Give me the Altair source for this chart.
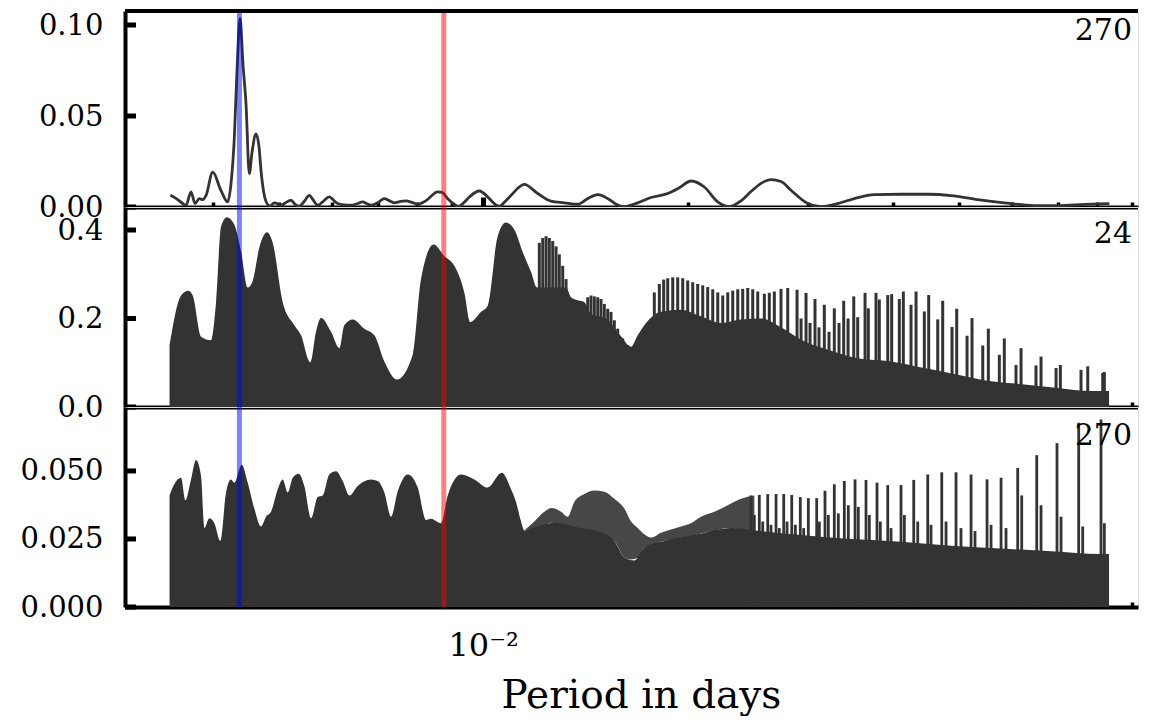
import altair as alt
import numpy as np
import pandas as pd

# ---------------- data (x stored as log10(period in days)) -------------
# Top panel ("270"): smooth periodogram line
top_logp = [
    -2.4601, -2.4493, -2.4419, -2.4371, -2.4297, -2.4238, -2.4175, -2.4125, -2.4076, -2.3978,
    -2.3856, -2.3757, -2.3709, -2.3660, -2.3621, -2.3576, -2.3532, -2.3488, -2.3440, -2.3400,
    -2.3341, -2.3297, -2.3268, -2.3194, -2.3135, -2.3072, -2.2974, -2.2900, -2.2826, -2.2768,
    -2.2704, -2.2635, -2.2557, -2.2503, -2.2434, -2.2356, -2.2263, -2.2194, -2.2140, -2.2047,
    -2.1944, -2.1856, -2.1772, -2.1709, -2.1650, -2.1547, -2.1454, -2.1385, -2.1307, -2.1224,
    -2.1135, -2.1047, -2.0963, -2.0841, -2.0669, -2.0606, -2.0522, -2.0444, -2.0363, -2.0282,
    -2.0204, -2.0057, -1.9910, -1.9826, -1.9763, -1.9679, -1.9591, -1.9396, -1.9199, -1.9003,
    -1.8807, -1.8610, -1.8463, -1.8316, -1.8146, -1.8047, -1.7925, -1.7728, -1.7532, -1.7287,
    -1.7116, -1.6944, -1.6749, -1.6551, -1.6381, -1.6209, -1.6062, -1.5915, -1.5768, -1.5621,
    -1.5474, -1.5228, -1.5032, -1.4787, -1.4543, -1.4249, -1.3856, -1.3463, -1.3121, -1.2728,
    -1.2337, -1.1896, -1.1551, -1.1160, -1.0793,
]
top_power = [
    0.0064, 0.0041, 0.0019, 0.0010, 0.0083, 0.0019, 0.0046, 0.0041, 0.0064, 0.0192,
    0.0090, 0.0028, 0.0128, 0.0383, 0.0750, 0.1036, 0.0780, 0.0564, 0.0183, 0.0300,
    0.0401, 0.0330, 0.0201, 0.0030, 0.0005, 0.0023, 0.0010, 0.0025, 0.0037, 0.0015,
    0.0004, 0.0030, 0.0064, 0.0040, 0.0010, 0.0030, 0.0056, 0.0035, 0.0019, 0.0012,
    0.0010, 0.0018, 0.0028, 0.0018, 0.0010, 0.0025, 0.0046, 0.0035, 0.0023, 0.0030,
    0.0034, 0.0025, 0.0015, 0.0035, 0.0083, 0.0080, 0.0046, 0.0020, 0.0003, 0.0025,
    0.0055, 0.0088, 0.0046, 0.0015, 0.0004, 0.0030, 0.0064, 0.0124, 0.0074, 0.0032,
    0.0023, 0.0015, 0.0046, 0.0068, 0.0041, 0.0015, 0.0002, 0.0023, 0.0052, 0.0074,
    0.0106, 0.0143, 0.0110, 0.0028, 0.0002, 0.0034, 0.0085, 0.0130, 0.0150, 0.0140,
    0.0092, 0.0019, 0.0002, 0.0019, 0.0046, 0.0068, 0.0070, 0.0070, 0.0063, 0.0041,
    0.0023, 0.0008, 0.0007, 0.0014, 0.0019,
]

# Middle panel ("24"): solid dark envelope of the dense oscillation
mid_fill_logp = [
    -2.4613, -2.4444, -2.4337, -2.4272, -2.4150, -2.4003, -2.3929, -2.3856, -2.3768, -2.3660,
    -2.3562, -2.3463, -2.3390, -2.3293, -2.3179, -2.3096, -2.2949, -2.2778, -2.2679, -2.2543,
    -2.2459, -2.2385, -2.2238, -2.2116, -2.2043, -2.1919, -2.1749, -2.1601, -2.1454, -2.1268,
    -2.1037, -2.0915, -2.0728, -2.0572, -2.0425, -2.0278, -2.0190, -2.0032, -1.9934, -1.9787,
    -1.9665, -1.9543, -1.9419, -1.9297, -1.9209, -1.9003, -1.8782, -1.8709, -1.8610, -1.8513,
    -1.8415, -1.8194, -1.7974, -1.7826, -1.7728, -1.7606, -1.7385, -1.7091, -1.6797, -1.6503,
    -1.6209, -1.5915, -1.5621, -1.5326, -1.4984, -1.4493, -1.4003, -1.3513, -1.3022, -1.2532,
    -1.2043, -1.1551, -1.1062, -1.0797,
]
mid_fill_power = [
    0.140, 0.252, 0.263, 0.252, 0.159, 0.151, 0.237, 0.408, 0.429, 0.412,
    0.352, 0.270, 0.285, 0.360, 0.395, 0.371, 0.237, 0.185, 0.162, 0.101,
    0.170, 0.201, 0.170, 0.133, 0.185, 0.198, 0.177, 0.162, 0.103, 0.062,
    0.118, 0.289, 0.367, 0.341, 0.319, 0.259, 0.192, 0.215, 0.229, 0.386,
    0.417, 0.401, 0.350, 0.305, 0.270, 0.270, 0.270, 0.248, 0.241, 0.237,
    0.210, 0.200, 0.160, 0.136, 0.162, 0.190, 0.215, 0.220, 0.205, 0.190,
    0.198, 0.200, 0.180, 0.152, 0.132, 0.110, 0.103, 0.088, 0.073, 0.058,
    0.051, 0.043, 0.036, 0.036,
]
# Middle panel: individual alias spikes (comb) above the solid part
mid_spike_logp = [
    -1.9175, -1.9125, -1.9076, -1.9028, -1.8978, -1.8929, -1.8881, -1.8831, -1.8782,
    -1.8463, -1.8415, -1.8366, -1.8316, -1.8268, -1.8219, -1.8169, -1.8121, -1.8072, -1.8022, -1.7949, -1.7875,
    -1.7484, -1.7410, -1.7346, -1.7287, -1.7213, -1.7140, -1.7066, -1.6993, -1.6919, -1.6846,
    -1.6772, -1.6699, -1.6625, -1.6551, -1.6478, -1.6404, -1.6331, -1.6257, -1.6184, -1.6110,
    -1.6037, -1.5963, -1.5866, -1.5793, -1.5719, -1.5621, -1.5522,
    -1.5385, -1.5253, -1.5121, -1.4984, -1.4837, -1.4699, -1.4551, -1.4385, -1.4224, -1.4051,
    -1.3993, -1.3822, -1.3635, -1.3449, -1.3243, -1.3037, -1.2812, -1.2572, -1.2337, -1.2091,
    -1.1797, -1.1513, -1.1110, -1.0866,
    -1.5326, -1.5194, -1.5062, -1.4915, -1.4768, -1.4635, -1.4493, -1.4337, -1.4175, -1.3881,
    -1.3709, -1.3513, -1.3316, -1.3106, -1.2885, -1.2654, -1.2410, -1.2165, -1.1871, -1.1576,
    -1.1209, -1.0890,
]
mid_spike_power = [
    0.371, 0.382, 0.386, 0.382, 0.375, 0.363, 0.345, 0.319, 0.289,
    0.248, 0.252, 0.250, 0.248, 0.244, 0.233, 0.222, 0.215, 0.196, 0.177, 0.155, 0.140,
    0.259, 0.278, 0.288, 0.291, 0.293, 0.293, 0.291, 0.286, 0.282, 0.278,
    0.275, 0.271, 0.266, 0.259, 0.252, 0.259, 0.263, 0.266, 0.267, 0.269,
    0.266, 0.261, 0.256, 0.258, 0.261, 0.267, 0.269,
    0.265, 0.258, 0.244, 0.231, 0.223, 0.240, 0.250, 0.258, 0.258, 0.253,
    0.255, 0.261, 0.261, 0.253, 0.240, 0.222, 0.201, 0.177, 0.155, 0.133,
    0.114, 0.095, 0.092, 0.079,
    0.200, 0.190, 0.180, 0.170, 0.190, 0.200, 0.203, 0.223, 0.243, 0.244,
    0.231, 0.216, 0.198, 0.181, 0.161, 0.139, 0.118, 0.095, 0.094, 0.088,
    0.084, 0.077,
]

# Bottom panel ("270"): solid envelope, a fine-comb band and resolved spikes
bot_fill_logp = [
    -2.4613, -2.4543, -2.4444, -2.4381, -2.4297, -2.4224, -2.4150, -2.4101, -2.4028, -2.3954,
    -2.3866, -2.3782, -2.3709, -2.3660, -2.3551, -2.3463, -2.3366, -2.3268, -2.3194, -2.3121,
    -2.3022, -2.2949, -2.2875, -2.2801, -2.2713, -2.2631, -2.2532, -2.2434, -2.2360, -2.2263,
    -2.2165, -2.2066, -2.1969, -2.1846, -2.1650, -2.1551, -2.1454, -2.1356, -2.1257, -2.1110,
    -2.0963, -2.0841, -2.0768, -2.0621, -2.0522, -2.0326, -2.0131, -1.9934, -1.9728, -1.9591,
    -1.9518, -1.9444, -1.9396, -1.9346, -1.9150, -1.8954, -1.8562, -1.8316, -1.8072, -1.7925,
    -1.7778, -1.7631, -1.7337, -1.6846, -1.6356, -1.5963, -1.5326, -1.4591, -1.3856, -1.3121,
    -1.2385, -1.1650, -1.0915, -1.0797,
]
bot_fill_power = [
    0.0410, 0.0451, 0.0475, 0.0392, 0.0469, 0.0540, 0.0481, 0.0290, 0.0326, 0.0308,
    0.0243, 0.0421, 0.0469, 0.0457, 0.0523, 0.0457, 0.0362, 0.0296, 0.0332, 0.0350,
    0.0433, 0.0469, 0.0421, 0.0475, 0.0490, 0.0445, 0.0326, 0.0404, 0.0410, 0.0487,
    0.0499, 0.0463, 0.0410, 0.0445, 0.0469, 0.0463, 0.0421, 0.0332, 0.0425, 0.0487,
    0.0439, 0.0320, 0.0324, 0.0308, 0.0410, 0.0487, 0.0469, 0.0439, 0.0493, 0.0433,
    0.0386, 0.0314, 0.0281, 0.0285, 0.0300, 0.0310, 0.0290, 0.0279, 0.0243, 0.0183,
    0.0171, 0.0219, 0.0243, 0.0267, 0.0290, 0.0280, 0.0265, 0.0250, 0.0240, 0.0225,
    0.0215, 0.0205, 0.0195, 0.0195,
]
bot_band_logp = [
    -1.9396, -1.9249, -1.9101, -1.8993, -1.8856, -1.8757, -1.8660, -1.8513, -1.8366, -1.8219,
    -1.8072, -1.7925, -1.7826, -1.7728, -1.7631, -1.7532, -1.7385, -1.7238, -1.7091, -1.6944,
    -1.6797, -1.6601, -1.6404, -1.6209, -1.6013,
]
bot_band_low = [
    0.0281, 0.0290, 0.0300, 0.0310, 0.0300, 0.0295, 0.0290, 0.0285, 0.0280, 0.0260,
    0.0243, 0.0183, 0.0175, 0.0180, 0.0219, 0.0225, 0.0240, 0.0245, 0.0255, 0.0260,
    0.0270, 0.0280, 0.0290, 0.0285, 0.0280,
]
bot_band_high = [
    0.0281, 0.0314, 0.0350, 0.0364, 0.0350, 0.0332, 0.0386, 0.0415, 0.0428, 0.0424,
    0.0398, 0.0362, 0.0314, 0.0290, 0.0267, 0.0255, 0.0273, 0.0285, 0.0296, 0.0308,
    0.0332, 0.0350, 0.0374, 0.0398, 0.0410,
]
bot_spike_logp = [
    -1.6062, -1.5940, -1.5816, -1.5694, -1.5581, -1.5463, -1.5337, -1.5219, -1.5096, -1.4974,
    -1.4837, -1.4690, -1.4532, -1.4371, -1.4209, -1.4051, -1.3856, -1.3669, -1.3463, -1.3257,
    -1.3047, -1.2826, -1.2591, -1.2385, -1.2140, -1.1860, -1.1562, -1.1243, -1.0915,
    -1.6013, -1.5890, -1.5768, -1.5646, -1.5532, -1.5410, -1.5287, -1.5165, -1.5057, -1.4925,
    -1.4778, -1.4631, -1.4484, -1.4322, -1.4160, -1.4003, -1.3807, -1.3610, -1.3415, -1.3194,
    -1.2974, -1.2768, -1.2532, -1.2312, -1.2081, -1.1797, -1.1503, -1.1184, -1.0866,
]
bot_spike_power = [
    0.0410, 0.0412, 0.0415, 0.0415, 0.0415, 0.0412, 0.0404, 0.0400, 0.0400, 0.0427,
    0.0451, 0.0463, 0.0469, 0.0467, 0.0457, 0.0448, 0.0448, 0.0467, 0.0487, 0.0495,
    0.0495, 0.0487, 0.0469, 0.0475, 0.0511, 0.0558, 0.0602, 0.0677, 0.0689,
    0.0338, 0.0314, 0.0302, 0.0290, 0.0314, 0.0302, 0.0290, 0.0255, 0.0314, 0.0338,
    0.0344, 0.0374, 0.0368, 0.0338, 0.0314, 0.0290, 0.0338, 0.0314, 0.0302, 0.0314,
    0.0290, 0.0279, 0.0302, 0.0290, 0.0410, 0.0374, 0.0332, 0.0296, 0.0308,
]

marker_periods = [0.00438, 0.00875]
marker_colors = ["blue", "red"]
panel_labels = ["270", "24", "270"]
top_yticks = [0.0, 0.05, 0.10]
mid_yticks = [0.0, 0.2, 0.4]
bot_yticks = [0.0, 0.025, 0.05]
minor_ticks = [0.004, 0.005, 0.006, 0.007, 0.008, 0.009,
               0.02, 0.03, 0.04, 0.05, 0.06, 0.07, 0.08, 0.09]
major_ticks = [0.01]

# ---------------- styling ----------------
FONT = "DejaVu Serif"
INK = "#333333"
W = 1013
X_DOMAIN = [10 ** -2.5268, 10 ** -1.0371]


def frame(logp, **cols):
    d = pd.DataFrame({"period": np.power(10.0, np.asarray(logp, dtype=float))})
    for k, v in cols.items():
        d[k] = v
    return d


xscale = alt.Scale(type="log", domain=X_DOMAIN, nice=False)

minor_axis = alt.Axis(
    orient="bottom", values=minor_ticks, labels=False, title=None,
    tickSize={"expr": "-5"}, tickWidth=3.5, tickColor="black",
    domain=True, domainColor="black", domainWidth=4, grid=False,
)


def major_axis(show_label):
    kw = dict(orient="bottom", values=major_ticks, tickSize={"expr": "-10"},
              tickWidth=5, tickColor="black", domain=False, grid=False)
    if show_label:
        kw.update(labels=True, labelExpr="'10⁻²'", labelFont=FONT, labelFontSize=32,
                  labelColor="black", labelPadding=58, labelBaseline="alphabetic",
                  labelFlush=False, labelOverlap=False,
                  title="Period in days", titleFont=FONT, titleFontSize=39,
                  titleFontWeight="normal", titleColor="black",
                  titleX=516, titleY=100, titleAlign="center", titleBaseline="alphabetic")
    else:
        kw.update(labels=False, title=None)
    return alt.Axis(**kw)


def y_axis(values, fmt):
    return alt.Axis(
        orient="left", values=values, format=fmt, title=None,
        ticks=False, labelPadding=22, labelFont=FONT, labelFontSize=29, labelColor="black",
        labelFlush=False, labelOverlap=False,
        domain=True, domainColor="black", domainWidth=4, grid=False,
    )


markers_df = pd.DataFrame({"period": marker_periods, "color": marker_colors})


def vlines(show_label):
    return alt.Chart(markers_df).mark_rule(strokeWidth=5, opacity=0.5).encode(
        x=alt.X("period:Q", scale=xscale, axis=major_axis(show_label)),
        color=alt.Color("color:N", scale=None),
    )


def corner_label(text, ypix):
    return alt.Chart(pd.DataFrame({"label": [text]})).mark_text(
        font=FONT, fontSize=30, align="right", baseline="alphabetic", color="black"
    ).encode(x=alt.value(W - 6), y=alt.value(ypix), text="label:N")


def inward_yticks(values, yscale, yaxis):
    # inward-pointing major ticks on the left frame, placed through the panel's y scale
    return alt.Chart(pd.DataFrame({"v": values})).mark_rule(color="black", strokeWidth=5).encode(
        y=alt.Y("v:Q", scale=yscale, axis=yaxis), x=alt.value(0), x2=alt.value(11)
    )


H_TOP, H_MID, H_BOT = 196, 200, 200

# ---- top panel ----
ys_top = alt.Scale(domain=[0, 0.1077], nice=False, zero=False)
ya_top = y_axis(top_yticks, ".2f")
top_line = alt.Chart(frame(top_logp, power=top_power)).mark_line(
    color=INK, strokeWidth=2.8, interpolate="monotone"
).encode(
    x=alt.X("period:Q", scale=xscale, axis=minor_axis),
    y=alt.Y("power:Q", scale=ys_top, axis=ya_top),
)
top_border = alt.Chart(pd.DataFrame({"k": [0]})).mark_rule(color="black", strokeWidth=4).encode(
    x=alt.value(0), x2=alt.value(W), y=alt.value(0)
)
top_panel = alt.layer(
    top_line, vlines(False), inward_yticks(top_yticks, ys_top, ya_top),
    corner_label(panel_labels[0], 29), top_border
).resolve_axis(x="independent").properties(width=W, height=H_TOP)

# ---- middle panel ----
ys_mid = alt.Scale(domain=[0, 0.452], nice=False, zero=False)
ya_mid = y_axis(mid_yticks, ".1f")
mid_fill = alt.Chart(frame(mid_fill_logp, power=mid_fill_power)).mark_area(
    color=INK, opacity=1, interpolate="monotone"
).encode(
    x=alt.X("period:Q", scale=xscale, axis=minor_axis),
    y=alt.Y("power:Q", scale=ys_mid, axis=ya_mid),
)
mid_spikes = alt.Chart(frame(mid_spike_logp, power=mid_spike_power)).mark_rule(
    color=INK, strokeWidth=3
).encode(
    x=alt.X("period:Q", scale=xscale, axis=None),
    y=alt.Y("power:Q", scale=ys_mid, axis=ya_mid),
    y2=alt.datum(0),
)
mid_panel = alt.layer(
    mid_fill, mid_spikes, vlines(False), inward_yticks(mid_yticks, ys_mid, ya_mid),
    corner_label(panel_labels[1], 36)
).resolve_axis(x="independent").properties(width=W, height=H_MID)

# ---- bottom panel ----
ys_bot = alt.Scale(domain=[0, 0.0735], nice=False, zero=False)
ya_bot = y_axis(bot_yticks, ".3f")
bot_fill = alt.Chart(frame(bot_fill_logp, power=bot_fill_power)).mark_area(
    color=INK, opacity=1, interpolate="monotone"
).encode(
    x=alt.X("period:Q", scale=xscale, axis=minor_axis),
    y=alt.Y("power:Q", scale=ys_bot, axis=ya_bot),
)
bot_band = alt.Chart(frame(bot_band_logp, low=bot_band_low, high=bot_band_high)).mark_area(
    color=INK, opacity=0.9, interpolate="monotone"
).encode(
    x=alt.X("period:Q", scale=xscale, axis=None),
    y=alt.Y("high:Q", scale=ys_bot, axis=ya_bot),
    y2="low:Q",
)
bot_spikes = alt.Chart(frame(bot_spike_logp, power=bot_spike_power)).mark_rule(
    color=INK, strokeWidth=2.8
).encode(
    x=alt.X("period:Q", scale=xscale, axis=None),
    y=alt.Y("power:Q", scale=ys_bot, axis=ya_bot),
    y2=alt.datum(0),
)
bot_panel = alt.layer(
    bot_fill, bot_band, bot_spikes, vlines(True), inward_yticks(bot_yticks, ys_bot, ya_bot),
    corner_label(panel_labels[2], 38)
).resolve_axis(x="independent").properties(width=W, height=H_BOT)

chart = (
    alt.vconcat(top_panel, mid_panel, bot_panel, spacing=0, bounds="flush")
    .resolve_scale(x="independent", y="independent")
    .properties(padding={"left": 11, "top": 0, "right": 0, "bottom": 0})
    .configure_view(stroke=None)
    .configure_axis(zindex=1)
    .configure(font=FONT)
)

chart.save("out.html", embed_options={"renderer": "svg", "actions": False})
